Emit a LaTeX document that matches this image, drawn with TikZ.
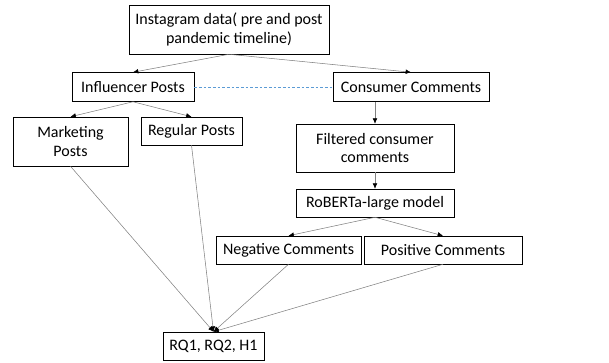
\documentclass[tikz,border=0pt]{standalone}
\usepackage{fontspec}
\setmainfont{Carlito}
\usetikzlibrary{arrows.meta}

\definecolor{linkblue}{RGB}{91,155,213}

\begin{document}
\begin{tikzpicture}[x=0.75pt, y=-0.75pt, font=\fontsize{12}{14}\selectfont,
  box/.style={draw, thin, inner sep=2pt, align=center},
  flow/.style={draw=gray, thin, -{Latex[black, length=4pt, width=3.5pt]}}]
  \useasboundingbox (0,0) rectangle (609,362);

  % 数据来源
  \node[box, minimum width=150pt, minimum height=36.75pt] (data) at (229,29.5)
    {Instagram data( pre and post\\ pandemic timeline)};

  % 第二层
  \node[box, minimum width=91.5pt, minimum height=21.75pt] (infl) at (133,87) {Influencer Posts};
  \node[box, minimum width=117pt, minimum height=21.75pt] (cons) at (411,87) {Consumer Comments};

  % 帖子分类
  \node[box, minimum width=86.25pt, minimum height=36.75pt] (mark) at (70.5,141.5) {Marketing\\ Posts};
  \node[box, minimum width=75.75pt, minimum height=21pt] (reg)  at (191.5,131) {Regular Posts};

  % 评论处理
  \node[box, minimum width=118.5pt, minimum height=36pt] (filt) at (375,148)
    {Filtered consumer\\ comments};
  \node[box, minimum width=118.5pt, minimum height=21pt] (rob) at (375,203) {RoBERTa-large model};
  \node[box, minimum width=108.75pt, minimum height=21pt] (neg) at (288.5,250) {Negative Comments};
  \node[box, minimum width=118.5pt, minimum height=21pt] (pos) at (443,250) {Positive Comments};

  % 结果
  \node[box, minimum width=75.75pt, minimum height=21pt] (rq) at (213.5,346) {RQ1, RQ2, H1};

  \draw[flow] (data.south) -- (infl.north);
  \draw[flow] (data.south) -- (cons.north);
  \draw[flow] (infl.south) -- (mark.north);
  \draw[flow] (infl.south) -- (reg.north);
  \draw[flow] (cons.south -| filt.north) -- (filt.north);
  \draw[flow] (filt.south) -- (rob.north);
  \draw[flow] (rob.south) -- (neg.north);
  \draw[flow] (rob.south) -- (pos.north);

  \draw[flow] (mark.south) -- (rq.north);
  \draw[flow] (reg.south)  -- (rq.north);
  \draw[flow] (neg.south)  -- (rq.north);
  \draw[flow] (pos.south)  -- (rq.north);

  % 虚线连接
  \draw[linkblue, thin, dash pattern=on 2pt off 1.5pt] (infl.east) -- (cons.west);
\end{tikzpicture}
\end{document}
